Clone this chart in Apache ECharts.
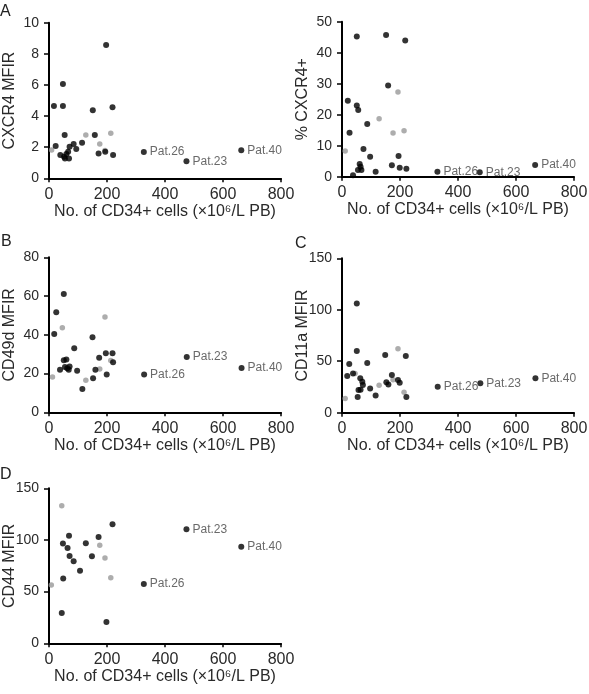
<!DOCTYPE html>
<html>
<head>
<meta charset="utf-8">
<script src="https://cdn.jsdelivr.net/npm/echarts@6/dist/echarts.min.js"></script>
<style>
html,body{margin:0;padding:0;background:#fff;}
#chart{width:589px;height:694px;}
</style>
</head>
<body>
<div id="chart"></div>
<script>
// ---- Data (x = No. of CD34+ cells, y = marker value) ----
var xTicks = [0, 200, 400, 600, 800];
var panelLetters = ['A', '', 'B', 'C', 'D'];
var yNames = ['CXCR4 MFIR', '% CXCR4+', 'CD49d MFIR', 'CD11a MFIR', 'CD44 MFIR'];
var yMax = [10, 50, 80, 150, 150];
var yStep = [2, 10, 20, 50, 50];

var cxcr4Black = [[17,4.65],[23,2.08],[39,1.5],[48,6.06],[48,4.65],[54,2.78],[52,1.39],[55,1.28],[60,1.56],[66,1.71],[69,1.28],[71,2.03],[85,2.2],[94,1.88],[114,2.29],[151,4.37],[158,2.78],[171,1.6],[197,8.57],[194,1.71],[219,4.56],[221,1.5]];
var cxcr4Grey = [[9,1.82],[127,2.78],[175,2.2],[193,1.78],[213,2.89]];
var cxcr4Pat = [[327,1.69,'Pat.26'],[474,1.09,'Pat.23'],[663,1.8,'Pat.40']];

var pctBlack = [[20,24.5],[26,14.2],[38,0.5],[51,45.2],[51,23],[56,21.5],[55,2.15],[61,4.1],[64,3.2],[67,2.15],[74,8.9],[87,17],[97,6.45],[116,1.6],[152,45.7],[159,29.4],[172,3.66],[195,6.67],[199,2.9],[218,43.9],[222,2.6]];
var pctGrey = [[11,8.3],[128,18.7],[176,14.1],[193,27.3],[214,14.8]];
var pctPat = [[329,1.6,'Pat.26'],[475,1.4,'Pat.23'],[666,3.8,'Pat.40']];

var cd49dBlack = [[18,40.4],[25,51.6],[38,21.9],[51,61.1],[51,26.9],[55,23.4],[60,27.2],[63,22.7],[68,21.9],[71,23.6],[87,33],[97,21.5],[115,12],[150,38.7],[152,17.6],[160,21.9],[173,28.2],[196,30.5],[199,19.5],[219,30.5],[221,25.8]];
var cd49dGrey = [[12,18.2],[46,43.7],[127,16.5],[175,22.4],[193,49.2],[213,26.7]];
var cd49dPat = [[328,19.5,'Pat.26'],[475,28.6,'Pat.23'],[664,22.9,'Pat.40']];

var cd11aBlack = [[18,35.6],[25,47.3],[38,38.2],[51,106],[51,59.9],[54,15.2],[57,22],[63,33.4],[64,22.4],[70,30.1],[72,26.9],[87,48.3],[97,23.6],[116,16.8],[149,56],[153,29.5],[160,27.5],[172,36.6],[193,31.7],[199,29.2],[220,55],[222,15.2]];
var cd11aGrey = [[11,13.9],[45,38],[128,26.6],[176,32],[193,62.2],[214,19.8]];
var cd11aPat = [[330,25.3,'Pat.26'],[477,28.5,'Pat.23'],[667,33.4,'Pat.40']];

var cd44Black = [[44,29.4],[48,96.5],[49,62.6],[64,92.3],[69,104.2],[71,84.5],[85,79.4],[107,70.3],[127,96.8],[148,84.2],[171,102.9],[198,20.6],[219,115.2]];
var cd44Grey = [[8,56.5],[44,133.2],[175,94.8],[193,82.6],[213,63.5]];
var cd44Pat = [[327,57.4,'Pat.26'],[474,110.3,'Pat.23'],[663,93.5,'Pat.40']];

var blackSets = [cxcr4Black, pctBlack, cd49dBlack, cd11aBlack, cd44Black];
var greySets = [cxcr4Grey, pctGrey, cd49dGrey, cd11aGrey, cd44Grey];
var patSets = [cxcr4Pat, pctPat, cd49dPat, cd11aPat, cd44Pat];

// ---- Layout ----
var FONT = "'Liberation Sans', Arial, sans-serif";
var TXT = '#2a2a2a';
var grids = [
  {left: 49, top: 22.7, width: 232, height: 155.6},
  {left: 342, top: 21.7, width: 232, height: 155},
  {left: 49, top: 257.3, width: 232, height: 155},
  {left: 342, top: 258.3, width: 232, height: 154.4},
  {left: 49, top: 488.3, width: 232, height: 155}
];
grids.forEach(function(g){ g.containLabel = false; g.outerBoundsMode = 'none'; });
var letterPos = [[0,4],[0,0],[1,234],[295,236],[0,467]];

var xAxes = [], yAxes = [], series = [], titles = [];
for (var i = 0; i < 5; i++) {
  xAxes.push({
    gridIndex: i, type: 'value', min: xTicks[0], max: xTicks[xTicks.length-1], interval: 200,
    name: 'No. of CD34+ cells (×10⁶/L PB)', nameLocation: 'middle', nameGap: 25,
    nameMoveOverlap: false,
    nameTextStyle: {fontFamily: FONT, fontSize: 16, color: TXT},
    axisLine: {show: true, onZero: false, lineStyle: {color: '#000', width: 2}},
    axisTick: {show: true, length: 4, lineStyle: {color: '#000', width: 1.5}},
    axisLabel: {fontFamily: FONT, fontSize: 16, color: TXT, margin: 8},
    splitLine: {show: false}
  });
  yAxes.push({
    gridIndex: i, type: 'value', min: 0, max: yMax[i], interval: yStep[i],
    name: yNames[i], nameLocation: 'middle', nameGap: 31, nameRotate: 90,
    nameMoveOverlap: false,
    nameTextStyle: {fontFamily: FONT, fontSize: 16, color: TXT},
    axisLine: {show: true, onZero: false, lineStyle: {color: '#000', width: 2}},
    axisTick: {show: true, length: 5, lineStyle: {color: '#000', width: 1.5}},
    axisLabel: {fontFamily: FONT, fontSize: 14, color: TXT, margin: 10},
    splitLine: {show: false}
  });
  series.push({
    type: 'scatter', xAxisIndex: i, yAxisIndex: i, data: greySets[i],
    symbol: 'circle', symbolSize: 5.5, itemStyle: {color: '#999'}, silent: true, z: 2
  });
  series.push({
    type: 'scatter', xAxisIndex: i, yAxisIndex: i, data: blackSets[i],
    symbol: 'circle', symbolSize: 6, itemStyle: {color: '#000'}, silent: true, z: 3
  });
  series.push({
    type: 'scatter', xAxisIndex: i, yAxisIndex: i,
    data: patSets[i].map(function(p){ return {value: [p[0], p[1]], name: p[2]}; }),
    symbol: 'circle', symbolSize: 6, itemStyle: {color: '#000'}, silent: true, z: 3,
    label: {show: true, position: 'right', distance: 3, formatter: '{b}',
            fontFamily: FONT, fontSize: 12, color: '#444'}
  });
  if (panelLetters[i]) {
    titles.push({text: panelLetters[i], left: letterPos[i][0], top: letterPos[i][1],
      textStyle: {fontFamily: FONT, fontSize: 16, fontWeight: 'normal', color: '#222'}, padding: 0});
  }
}

var chart = echarts.init(document.getElementById('chart'), null, {renderer: 'canvas'});
chart.setOption({
  animation: false,
  backgroundColor: '#fff',
  title: titles,
  grid: grids,
  xAxis: xAxes,
  yAxis: yAxes,
  series: series
});
</script>
</body>
</html>
